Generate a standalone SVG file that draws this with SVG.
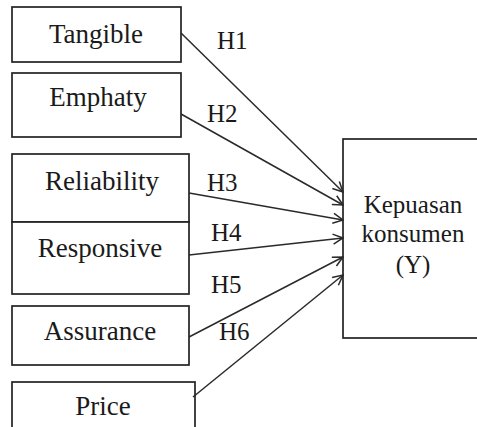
<svg xmlns="http://www.w3.org/2000/svg" width="477" height="427" viewBox="0 0 477 427">
<defs>
<style>
.box{fill:#fff;stroke:#222;stroke-width:1.7}
.t{font-family:"Liberation Serif","Times New Roman",serif;font-size:27px;fill:#1a1a1a;text-anchor:middle}
.r{font-family:"Liberation Serif","Times New Roman",serif;font-size:25px;fill:#1a1a1a;text-anchor:middle}
.h{font-family:"Liberation Serif","Times New Roman",serif;font-size:25px;fill:#1a1a1a}
.c{stroke:#2a2a2a;stroke-width:1.5;fill:none;marker-end:url(#arr)}
</style>
<marker id="arr" viewBox="0 0 12 12" refX="11" refY="6" markerWidth="12" markerHeight="12" markerUnits="userSpaceOnUse" orient="auto">
<path d="M1,1 L11,6 L1,11" fill="none" stroke="#2a2a2a" stroke-width="1.5"/>
</marker>
</defs>
<rect width="477" height="427" fill="#fff"/>
<g id="tangible"><rect class="box" x="12" y="7" width="169" height="55"/><text class="t" x="96" y="43">Tangible</text></g>
<g id="emphaty"><rect class="box" x="12" y="73" width="169" height="64"/><text class="t" x="98" y="106">Emphaty</text></g>
<g id="reliability"><rect class="box" x="12" y="154" width="177" height="68"/><text class="t" x="102" y="190">Reliability</text></g>
<g id="responsive"><rect class="box" x="12" y="222" width="177" height="72"/><text class="t" x="100" y="257">Responsive</text></g>
<g id="assurance"><rect class="box" x="12" y="306" width="177" height="59"/><text class="t" x="100" y="340">Assurance</text></g>
<g id="price"><rect class="box" x="12" y="382" width="183" height="60"/><text class="t" x="103" y="415">Price</text></g>
<g id="kepuasan"><rect class="box" x="343" y="139" width="150" height="199"/><text class="r" x="413" y="213">Kepuasan</text><text class="r" x="413" y="242">konsumen</text><text class="r" x="413" y="273">(Y)</text></g>
<g id="connectors">
<line class="c" x1="181" y1="33" x2="343" y2="192"/>
<line class="c" x1="181" y1="114" x2="343" y2="205"/>
<line class="c" x1="189" y1="193" x2="343" y2="220"/>
<line class="c" x1="189" y1="255" x2="343" y2="238"/>
<line class="c" x1="189" y1="337" x2="343" y2="257"/>
<line class="c" x1="193" y1="397" x2="343" y2="275"/>
</g>
<g id="labels">
<text class="h" x="217" y="49">H1</text>
<text class="h" x="207" y="122">H2</text>
<text class="h" x="207" y="191">H3</text>
<text class="h" x="211" y="241">H4</text>
<text class="h" x="211" y="293">H5</text>
<text class="h" x="219" y="340">H6</text>
</g>
</svg>
